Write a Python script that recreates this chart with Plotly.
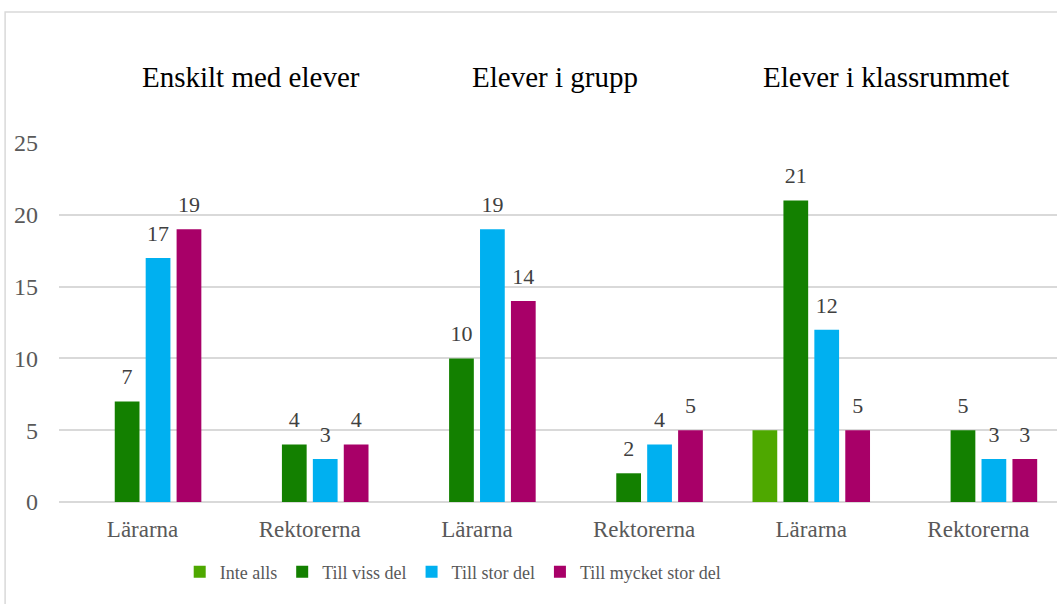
import plotly.graph_objects as go

categories = ["Lärarna", "Rektorerna", "Lärarna", "Rektorerna", "Lärarna", "Rektorerna"]
group_titles = ["Enskilt med elever", "Elever i grupp", "Elever i klassrummet"]
series_names = ["Inte alls", "Till viss del", "Till stor del", "Till mycket stor del"]
inte_alls = [0, 0, 0, 0, 5, 0]
till_viss_del = [7, 4, 10, 2, 21, 5]
till_stor_del = [17, 3, 19, 4, 12, 3]
till_mycket_stor_del = [19, 4, 14, 5, 5, 3]
y_ticks = [0, 5, 10, 15, 20, 25]

colors = ["#4EA800", "#138000", "#00B0F0", "#A80068"]
show_labels = [False, True, True, True]
FONT = "Liberation Serif"
GAP = 0.26

x = list(range(len(categories)))
series = [inte_alls, till_viss_del, till_stor_del, till_mycket_stor_del]
fig = go.Figure()
for name, vals, col in zip(series_names, series, colors):
    fig.add_trace(go.Bar(x=x, y=vals, name=name, marker=dict(color=col, line=dict(width=0))))

# data labels as grouped scatter text (aligned with bar slots)
for name, vals, lab in zip(series_names, series, show_labels):
    fig.add_trace(go.Scatter(
        x=x, y=vals, mode="markers+text", showlegend=False, hoverinfo="skip",
        marker=dict(size=17, opacity=0), cliponaxis=False,
        text=[str(v) if (v and lab) else "" for v in vals], textposition="top center",
        textfont=dict(family=FONT, size=22, color="#404040"),
    ))

title_x = [0.65, 2.47, 4.45]
for t, tx in zip(group_titles, title_x):
    fig.add_annotation(x=tx, y=1.183, xref="x", yref="paper", text=t, showarrow=False,
                       font=dict(family=FONT, size=29, color="#000000"),
                       xanchor="center", yanchor="middle")

fig.add_shape(type="rect", xref="paper", yref="paper", x0=-0.054, x1=1.2, y0=-0.6, y1=1.365,
              line=dict(color="#D9D9D9", width=1.5), fillcolor="rgba(0,0,0,0)", layer="below")

fig.update_layout(
    width=1057, height=604,
    margin=dict(l=59, r=0, t=143, b=102),
    paper_bgcolor="white", plot_bgcolor="white",
    barmode="group", bargap=GAP, bargroupgap=0.2,
    scattermode="group", scattergap=GAP,
    font=dict(family=FONT, color="#595959"),
    showlegend=True,
    legend=dict(orientation="h", x=0.395, xanchor="center", y=-0.195, yanchor="middle",
                font=dict(family=FONT, size=18, color="#595959"),
                itemwidth=30, traceorder="normal"),
    xaxis=dict(tickmode="array", tickvals=x, ticktext=categories, range=[-0.5, 5.47],
               showgrid=False, zeroline=False, showline=False, ticks="",
               tickfont=dict(family=FONT, size=23, color="#595959"), ticklabelstandoff=11),
    yaxis=dict(range=[0, 25], tickvals=y_ticks, showgrid=True, gridcolor="#D9D9D9", gridwidth=1.5,
               zeroline=True, zerolinecolor="#D9D9D9", zerolinewidth=1.5, showline=False, ticks="",
               tickfont=dict(family=FONT, size=24, color="#595959"), ticklabelstandoff=20),
)

fig.write_html("out.html")
